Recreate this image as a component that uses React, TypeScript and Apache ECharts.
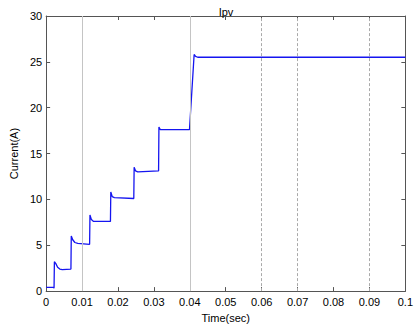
import React, { useEffect, useRef } from "react";
import * as echarts from "echarts";

const timeSec = [
  0, 0.0021, 0.0022, 0.0023, 0.0027, 0.0032, 0.0038, 0.0045, 0.0069,
  0.0070, 0.0074, 0.0080, 0.0088, 0.0121,
  0.0122, 0.0126, 0.0132, 0.0179,
  0.0180, 0.0184, 0.0190, 0.0244,
  0.0245, 0.0249, 0.0255, 0.0313,
  0.0314, 0.0318, 0.0324, 0.0399,
  0.0412, 0.0416, 0.0422, 0.1,
];
const currentA = [
  0.4, 0.4, 0.3, 3.2, 3.0, 2.6, 2.4, 2.35, 2.4,
  6.0, 5.6, 5.3, 5.2, 5.1,
  8.3, 7.8, 7.6, 7.6,
  10.8, 10.3, 10.2, 10.1,
  13.5, 13.1, 13.0, 13.1,
  17.9, 17.6, 17.6, 17.6,
  25.8, 25.6, 25.5, 25.5,
];
const solidMarks = [0.01, 0.04];
const dashedMarks = [0.06, 0.07, 0.09];

export default function App() {
  const ref = useRef<HTMLDivElement>(null);
  useEffect(() => {
    if (!ref.current) return;
    const chart = echarts.init(ref.current, undefined, { renderer: "svg" });
    const font = "Liberation Sans, Arial, sans-serif";
    const fmt = (v: number) => String(+v.toFixed(2));
    chart.setOption({
      animation: false,
      backgroundColor: "#fff",
      title: {
        text: "Ipv",
        left: 221,
        textAlign: "center",
        top: 1,
        textStyle: { fontFamily: font, fontSize: 11, fontWeight: "normal", color: "#000" },
      },
      grid: { left: 33, right: 8, top: 16, bottom: 29 },
      xAxis: [
        {
          type: "value", min: 0, max: 0.1, interval: 0.01,
          name: "Time(sec)", nameLocation: "middle", nameGap: 17,
          nameTextStyle: { fontFamily: font, fontSize: 11, color: "#000" },
          axisLine: { show: true, onZero: false, lineStyle: { color: "#555" } },
          axisTick: { show: true, inside: true, length: 4, lineStyle: { color: "#555" } },
          axisLabel: { fontFamily: font, fontSize: 11, color: "#000", margin: 5, formatter: fmt },
          splitLine: { show: false },
        },
        {
          type: "value", min: 0, max: 0.1, interval: 0.01, position: "top",
          axisLine: { show: true, onZero: false, lineStyle: { color: "#555" } },
          axisTick: { show: true, inside: true, length: 4, lineStyle: { color: "#555" } },
          axisLabel: { show: false },
          splitLine: { show: false },
        },
      ],
      yAxis: [
        {
          type: "value", min: 0, max: 30, interval: 5,
          name: "Current(A)", nameLocation: "middle", nameGap: 19,
          nameTextStyle: { fontFamily: font, fontSize: 11, color: "#000" },
          axisLine: { show: true, onZero: false, lineStyle: { color: "#555" } },
          axisTick: { show: true, inside: true, length: 4, lineStyle: { color: "#555" } },
          axisLabel: { fontFamily: font, fontSize: 11, color: "#000", margin: 4 },
          splitLine: { show: false },
        },
        {
          type: "value", min: 0, max: 30, interval: 5, position: "right",
          axisLine: { show: true, onZero: false, lineStyle: { color: "#555" } },
          axisTick: { show: true, inside: true, length: 4, lineStyle: { color: "#555" } },
          axisLabel: { show: false },
          splitLine: { show: false },
        },
      ],
      series: [
        {
          type: "line",
          data: timeSec.map((t, i) => [t, currentA[i]]),
          showSymbol: false,
          symbol: "none",
          lineStyle: { color: "#1515f0", width: 1.3 },
          z: 3,
          markLine: {
            silent: true,
            symbol: "none",
            label: { show: false },
            data: [
              ...solidMarks.map((x) => ({ xAxis: x, lineStyle: { color: "#c4c4c4", type: "solid", width: 1 } })),
              ...dashedMarks.map((x) => ({ xAxis: x, lineStyle: { color: "#aaa", type: [3, 2], width: 1 } })),
            ],
          },
        },
      ],
    });
    return () => chart.dispose();
  }, []);
  return (
    <div
      ref={ref}
      style={{ position: "absolute", left: 0, top: 0, width: 416, height: 328 }}
    />
  );
}
